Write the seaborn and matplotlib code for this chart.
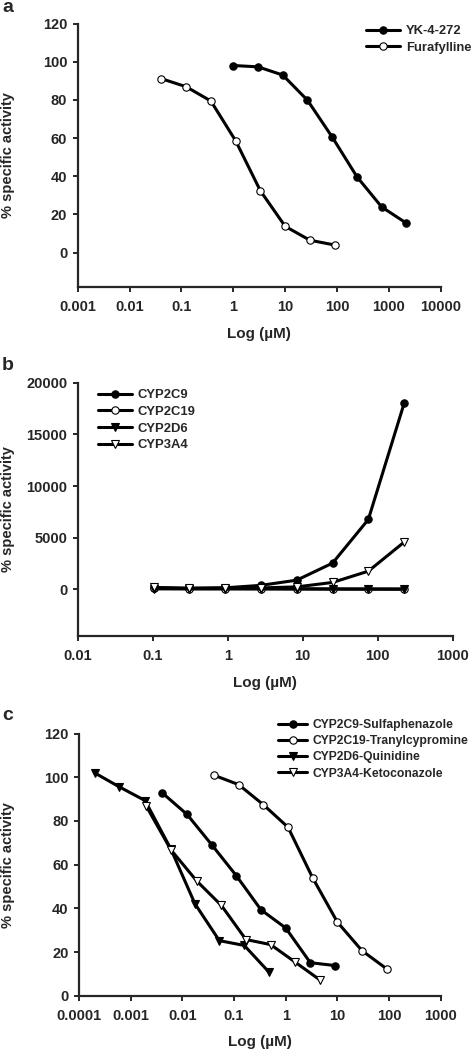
import numpy as np
import pandas as pd
import matplotlib
matplotlib.use("Agg")
import matplotlib.pyplot as plt
import seaborn as sns

# panel a
a_yk_x = [1, 3, 9, 27, 81, 243, 729, 2187]
a_yk_y = [98.0, 97.3, 93.0, 79.8, 60.5, 39.7, 23.9, 15.4]
a_fur_x = [0.041, 0.123, 0.37, 1.11, 3.33, 10, 30, 90]
a_fur_y = [91.1, 86.9, 79.4, 58.6, 32.4, 13.8, 6.5, 4.0]

# panel b
b_x = [0.103, 0.309, 0.926, 2.78, 8.33, 25, 75, 225]
b_2c9 = [150, 110, 160, 400, 900, 2550, 6770, 18000]
b_2c19 = [100, 90, 90, 80, 60, 40, 30, 20]
b_2d6 = [60, 50, 50, 50, 50, 50, 50, 50]
b_3a4 = [200, 120, 150, 150, 250, 680, 1770, 4580]

# panel c
c_2c9_x = [0.0041, 0.0123, 0.037, 0.111, 0.333, 1.0, 3.0, 9.0]
c_2c9_y = [92.8, 83.0, 69.1, 54.9, 39.3, 31.0, 15.1, 13.8]
c_2c19_x = [0.041, 0.123, 0.37, 1.11, 3.33, 10, 30, 90]
c_2c19_y = [100.9, 96.6, 87.4, 77.1, 53.9, 33.7, 20.6, 12.3]
c_2d6_x = [0.0002, 0.0006, 0.0019, 0.006, 0.0175, 0.052, 0.158, 0.47]
c_2d6_y = [102.0, 95.6, 89.3, 67.1, 42.1, 25.2, 23.0, 10.9]
c_3a4_x = [0.002, 0.006, 0.019, 0.057, 0.17, 0.51, 1.52, 4.6]
c_3a4_y = [86.8, 66.8, 52.5, 41.3, 25.7, 23.4, 15.4, 7.2]

sns.set_style("ticks")
plt.rcParams['font.family'] = ['Liberation Sans', 'DejaVu Sans']
plt.rcParams['font.weight'] = 'bold'
plt.rcParams['axes.labelweight'] = 'bold'

W, H = 472, 1050
fig = plt.figure(figsize=(W / 100, H / 100), dpi=100)


def px_axes(left, right, top, bottom):
    return fig.add_axes([left / W, 1 - bottom / H, (right - left) / W, (bottom - top) / H])


def draw(ax, x, y, label, marker, face):
    sns.lineplot(x=x, y=y, ax=ax, color='black', lw=2.2, marker=marker,
                 markersize=5.3 if marker == 'o' else 6.3, markerfacecolor=face,
                 markeredgecolor='black', markeredgewidth=0.8, label=label,
                 sort=False, estimator=None)


def style(ax, xticks, xlabels, yticks, xlim, ylim):
    ax.set_xscale('log')
    ax.set_xlim(*xlim)
    ax.set_ylim(*ylim)
    ax.set_xticks(xticks)
    ax.set_xticklabels(xlabels)
    ax.minorticks_off()
    ax.set_yticks(yticks)
    for s in ['top', 'right']:
        ax.spines[s].set_visible(False)
    for s in ['left', 'bottom']:
        ax.spines[s].set_linewidth(1.6)
    ax.tick_params(axis='both', length=3.5, width=1.4, labelsize=10.5, pad=4)
    ax.tick_params(axis='x', pad=6)
    for t in ax.get_xticklabels() + ax.get_yticklabels():
        t.set_fontweight('bold')
    ax.set_xlabel('Log (µM)', fontsize=11, fontweight='bold')
    ax.set_ylabel('% specific activity', fontsize=10.5, fontweight='bold')


def legend(ax, anchor, size, hlen):
    lg = ax.legend(loc='upper left', bbox_to_anchor=anchor, bbox_transform=fig.transFigure,
                   frameon=False, fontsize=size, handlelength=hlen, handletextpad=0.45,
                   labelspacing=0.35, borderpad=0, borderaxespad=0)
    for t in lg.get_texts():
        t.set_fontweight('bold')


# panel a
ax1 = px_axes(77.7, 440.7, 23.5, 287)
draw(ax1, a_yk_x, a_yk_y, 'YK-4-272', 'o', 'black')
draw(ax1, a_fur_x, a_fur_y, 'Furafylline', 'o', 'white')
style(ax1, [0.001, 0.01, 0.1, 1, 10, 100, 1000, 10000],
      ['0.001', '0.01', '0.1', '1', '10', '100', '1000', '10000'],
      np.arange(0, 121, 20), (0.001, 10000), (-18, 120))
ax1.yaxis.set_label_coords(-0.173, 0.5)
ax1.xaxis.set_label_coords(0.5, -0.152)
legend(ax1, (366 / W, 1 - 25 / H), 9.4, 2.6)

# panel b
ax2 = px_axes(77.7, 452.7, 382.7, 636)
draw(ax2, b_x, b_2c9, 'CYP2C9', 'o', 'black')
draw(ax2, b_x, b_2c19, 'CYP2C19', 'o', 'white')
draw(ax2, b_x, b_2d6, 'CYP2D6', 'v', 'black')
draw(ax2, b_x, b_3a4, 'CYP3A4', 'v', 'white')
style(ax2, [0.01, 0.1, 1, 10, 100, 1000],
      ['0.01', '0.1', '1', '10', '100', '1000'],
      np.arange(0, 20001, 5000), (0.01, 1000), (-4500, 20000))
ax2.yaxis.set_label_coords(-0.167, 0.5)
ax2.xaxis.set_label_coords(0.5, -0.158)
legend(ax2, (98 / W, 1 - 389 / H), 9.4, 2.6)

# panel c
ax3 = px_axes(79, 440.7, 733.5, 995.7)
draw(ax3, c_2c9_x, c_2c9_y, 'CYP2C9-Sulfaphenazole', 'o', 'black')
draw(ax3, c_2c19_x, c_2c19_y, 'CYP2C19-Tranylcypromine', 'o', 'white')
draw(ax3, c_2d6_x, c_2d6_y, 'CYP2D6-Quinidine', 'v', 'black')
draw(ax3, c_3a4_x, c_3a4_y, 'CYP3A4-Ketoconazole', 'v', 'white')
style(ax3, [0.0001, 0.001, 0.01, 0.1, 1, 10, 100, 1000],
      ['0.0001', '0.001', '0.01', '0.1', '1', '10', '100', '1000'],
      np.arange(0, 121, 20), (0.0001, 1000), (0, 120))
ax3.yaxis.set_label_coords(-0.177, 0.5)
ax3.xaxis.set_label_coords(0.5, -0.151)
legend(ax3, (278 / W, 1 - 719 / H), 8.7, 2.4)

# panel letters
for lbl, y in [('a', 8), ('b', 365), ('c', 716)]:
    fig.text(2 / W, 1 - y / H, lbl, fontsize=14, fontweight='bold', va='center', ha='left')

fig.savefig('out.png', dpi=100)
